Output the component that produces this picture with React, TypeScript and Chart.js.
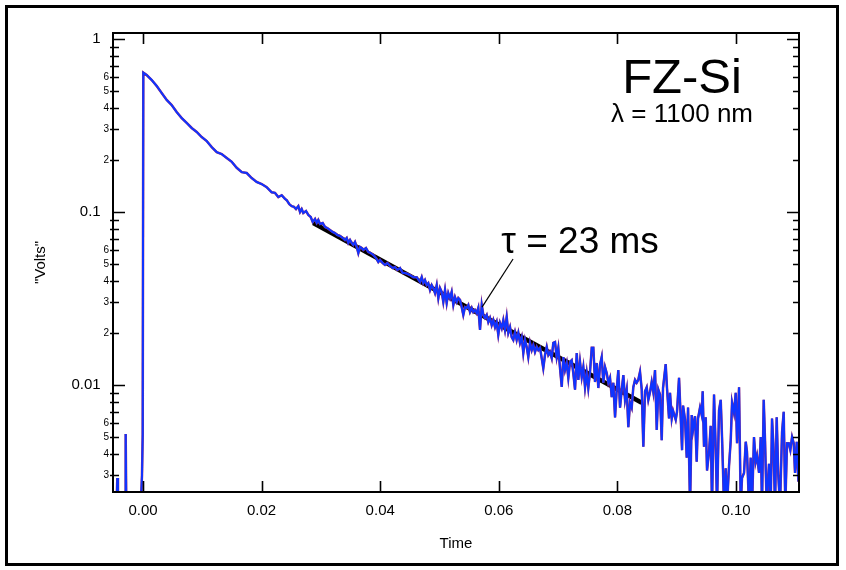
import React, { useEffect, useRef } from "react";
import { Chart, registerables } from "chart.js";

Chart.register(...registerables);

// Measured trace (time in s, signal in "Volts")
const traceTime = [
  -0.00506, -0.00447, -0.00433, -0.00422, -0.00298, -0.00292, -0.00282, -0.00037, -0.00017, -0.00005,
  0.00005, 0.00062, 0.00147, 0.00231, 0.00315, 0.004, 0.00484, 0.00568, 0.00653, 0.00737,
  0.00821, 0.00906, 0.0099, 0.01074, 0.01159, 0.01243, 0.01327, 0.01412, 0.01496, 0.0158,
  0.01665, 0.01749, 0.01833, 0.01917, 0.02002, 0.02086, 0.0217, 0.02226, 0.02282, 0.02339,
  0.02395, 0.02423, 0.02467, 0.02508, 0.02546, 0.0258, 0.02619, 0.02648, 0.02676, 0.02703,
  0.02749, 0.02788, 0.02828, 0.02862, 0.02901, 0.02929, 0.02956, 0.02985, 0.0303, 0.03069,
  0.03108, 0.03153, 0.03199, 0.03238, 0.03276, 0.03322, 0.03368, 0.03406, 0.03435, 0.03462,
  0.03491, 0.03519, 0.03546, 0.03575, 0.03604, 0.03631, 0.03659, 0.03688, 0.03715, 0.0376,
  0.03799, 0.0384, 0.03884, 0.03929, 0.03968, 0.03997, 0.04042, 0.04081, 0.0412, 0.04165,
  0.04211, 0.0425, 0.04288, 0.04334, 0.04379, 0.04418, 0.04464, 0.04503, 0.04558, 0.04616,
  0.04671, 0.047, 0.04727, 0.04755, 0.04784, 0.04811, 0.0484, 0.04868, 0.04895, 0.04924,
  0.04953, 0.0498, 0.05008, 0.05037, 0.05064, 0.05093, 0.05121, 0.05148, 0.05177, 0.05205,
  0.05233, 0.05261, 0.0529, 0.05317, 0.05346, 0.05374, 0.05401, 0.0543, 0.05459, 0.05486,
  0.05514, 0.05543, 0.0557, 0.05599, 0.05627, 0.05654, 0.05683, 0.05712, 0.05739, 0.05767,
  0.05796, 0.05823, 0.05851, 0.0588, 0.05907, 0.05936, 0.05964, 0.05991, 0.0602, 0.06049,
  0.06076, 0.06104, 0.06133, 0.0616, 0.06189, 0.06217, 0.06244, 0.06273, 0.06301, 0.06329,
  0.06357, 0.06386, 0.06413, 0.06442, 0.0647, 0.06497, 0.06526, 0.06555, 0.06582, 0.0661,
  0.06639, 0.06666, 0.06695, 0.06723, 0.0675, 0.06779, 0.06808, 0.06835, 0.06863, 0.06892,
  0.06919, 0.06948, 0.06976, 0.07003, 0.07032, 0.07061, 0.07088, 0.07116, 0.07145, 0.07172,
  0.07201, 0.07229, 0.07256, 0.07285, 0.07314, 0.07341, 0.07369, 0.07398, 0.07425, 0.07454,
  0.07482, 0.07509, 0.07538, 0.07567, 0.07594, 0.07622, 0.07651, 0.07678, 0.07707, 0.07735,
  0.07762, 0.07791, 0.0782, 0.07847, 0.07875, 0.07904, 0.07931, 0.0796, 0.07988, 0.08015,
  0.08044, 0.08073, 0.081, 0.08128, 0.08157, 0.08184, 0.08213, 0.08241, 0.08268, 0.08297,
  0.08325, 0.08352, 0.08381, 0.0841, 0.08437, 0.08466, 0.08494, 0.08521, 0.0855, 0.08578,
  0.08605, 0.08634, 0.08663, 0.0869, 0.08718, 0.08747, 0.08769, 0.08814, 0.08836, 0.0887,
  0.08887, 0.08916, 0.08938, 0.08983, 0.09005, 0.09039, 0.09067, 0.0909, 0.09107, 0.0914,
  0.09169, 0.09191, 0.09225, 0.09253, 0.09275, 0.09309, 0.09337, 0.09359, 0.09393, 0.09421,
  0.09438, 0.0946, 0.09489, 0.09511, 0.09545, 0.09573, 0.09595, 0.09629, 0.09658, 0.0968,
  0.09713, 0.09742, 0.09764, 0.09798, 0.09826, 0.09848, 0.09882, 0.09911, 0.09933, 0.09966,
  0.09995, 0.10017, 0.10051, 0.10079, 0.10101, 0.10135, 0.10164, 0.10185, 0.10219, 0.10248,
  0.1027, 0.10303, 0.10332, 0.10354, 0.10388, 0.10417, 0.10438, 0.10467, 0.10489, 0.10517,
  0.10556, 0.10585, 0.10607, 0.10629, 0.10658, 0.10686, 0.10713, 0.10742, 0.10776, 0.10804,
  0.10831, 0.1086, 0.10889, 0.10916, 0.10945, 0.10973, 0.10995, 0.11024, 0.11051, 0.1108,
];

const traceVolts = [
  0.002, 0.002, 0.0029, 0.002, 0.002, 0.0052, 0.002, 0.002, 0.003, 0.0052,
  0.639, 0.619, 0.579, 0.535, 0.487, 0.444, 0.415, 0.378, 0.349, 0.327,
  0.306, 0.29, 0.271, 0.257, 0.237, 0.222, 0.216, 0.205, 0.195, 0.18,
  0.17, 0.168, 0.157, 0.149, 0.145, 0.139, 0.13, 0.129, 0.122, 0.125,
  0.119, 0.117, 0.111, 0.108, 0.107, 0.104, 0.108, 0.1, 0.104, 0.0987,
  0.1013, 0.0961, 0.0936, 0.0875, 0.0911, 0.0864, 0.0899, 0.0852, 0.0864, 0.0819,
  0.0808, 0.0787, 0.0766, 0.0756, 0.0736, 0.0727, 0.0708, 0.0689, 0.0708, 0.0662,
  0.0689, 0.0662, 0.0645, 0.0671, 0.0628, 0.0579, 0.0628, 0.0619, 0.0603, 0.0619,
  0.0587, 0.0579, 0.0564, 0.0542, 0.0514, 0.0528, 0.0507, 0.0494, 0.0507, 0.0488,
  0.0474, 0.0481, 0.0462, 0.0474, 0.0444, 0.0444, 0.0438, 0.0432, 0.042, 0.042,
  0.0394, 0.042, 0.0388, 0.0404, 0.0378, 0.0388, 0.0354, 0.0378, 0.0363, 0.034,
  0.0378, 0.0318, 0.0363, 0.0345, 0.0302, 0.0354, 0.0298, 0.034, 0.0318, 0.0345,
  0.029, 0.0322, 0.0302, 0.0318, 0.031, 0.0282, 0.0254, 0.0282, 0.0279, 0.029,
  0.0264, 0.0279, 0.0264, 0.0271, 0.026, 0.0279, 0.0208, 0.029, 0.0254, 0.0244,
  0.0254, 0.0231, 0.0244, 0.0222, 0.0237, 0.0216, 0.0231, 0.0195, 0.0228, 0.0213,
  0.0237, 0.0208, 0.0247, 0.02, 0.0216, 0.0189, 0.0182, 0.0202, 0.0182, 0.02,
  0.0175, 0.0189, 0.0153, 0.0182, 0.0166, 0.0145, 0.0175, 0.0159, 0.017, 0.0155,
  0.0166, 0.0159, 0.0164, 0.0143, 0.0125, 0.0149, 0.0166, 0.0149, 0.0155, 0.0143,
  0.0175, 0.0177, 0.0145, 0.0164, 0.0125, 0.00974, 0.0145, 0.0122, 0.0134, 0.011,
  0.0136, 0.0139, 0.0117, 0.0094, 0.0153, 0.0107, 0.0136, 0.0111, 0.0127, 0.0097,
  0.0117, 0.0096, 0.0119, 0.0164, 0.0164, 0.0104, 0.0134, 0.0096, 0.0131, 0.0145,
  0.0103, 0.0127, 0.0117, 0.0103, 0.011, 0.0085, 0.0103, 0.0065, 0.0094, 0.0122,
  0.0074, 0.0094, 0.0114, 0.0082, 0.0094, 0.0057, 0.0079, 0.0074, 0.0097, 0.0107,
  0.0103, 0.0107, 0.0119, 0.0094, 0.0044, 0.0092, 0.0097, 0.0082, 0.0091, 0.0104,
  0.0091, 0.0122, 0.0055, 0.0094, 0.0088, 0.0048, 0.0096, 0.0132, 0.0096, 0.0064,
  0.009, 0.0064, 0.0071, 0.0063, 0.007, 0.011, 0.0065, 0.0042, 0.0076, 0.0063,
  0.0038, 0.0074, 0.002, 0.0067, 0.0055, 0.0066, 0.0036, 0.0064, 0.0074, 0.0067,
  0.0092, 0.0044, 0.0065, 0.0032, 0.0041, 0.0058, 0.002, 0.0088, 0.0042, 0.002,
  0.0071, 0.0082, 0.005, 0.002, 0.0033, 0.002, 0.0034, 0.0048, 0.0079, 0.0069,
  0.009, 0.0046, 0.0097, 0.002, 0.0029, 0.0031, 0.0047, 0.0041, 0.002, 0.0038,
  0.002, 0.005, 0.0036, 0.0039, 0.0031, 0.005, 0.002, 0.0082, 0.0048, 0.002,
  0.0035, 0.002, 0.0064, 0.0046, 0.002, 0.0065, 0.003, 0.002, 0.0053, 0.007,
  0.002, 0.0046, 0.0046, 0.0042, 0.005, 0.0046, 0.0031, 0.0047, 0.0028, 0.0028,
];

// Exponential fit, tau = 23 ms (end points)
const fitTime = [0.0287, 0.0841];
const fitVolts = [0.0864, 0.0079];

// Axes
const xTickValues = [0, 0.02, 0.04, 0.06, 0.08, 0.1];
const xTickLabels = ["0.00", "0.02", "0.04", "0.06", "0.08", "0.10"];
const yTickValues = [
  0.003, 0.004, 0.005, 0.006, 0.007, 0.008, 0.009,
  0.01, 0.02, 0.03, 0.04, 0.05, 0.06, 0.07, 0.08, 0.09,
  0.1, 0.2, 0.3, 0.4, 0.5, 0.6, 0.7, 0.8, 0.9, 1,
];
const yTickLabels = [
  "3", "4", "5", "6", "", "", "",
  "0.01", "2", "3", "4", "5", "6", "", "", "",
  "0.1", "2", "3", "4", "5", "6", "", "", "",
  "1",
];
const yMajorTicks = [0.01, 0.1, 1];
const X_MIN = -0.00506;
const X_MAX = 0.11062;
const Y_MIN = 0.002406;
const Y_MAX = 1.083;

// Annotations (anchored in data coordinates)
const titleText = "FZ-Si";
const titleAt = [0.0909, 0.487];
const subtitleText = "\u03bb = 1100 nm";
const subtitleAt = [0.0909, 0.331];
const tauText = "\u03c4 = 23 ms";
const tauAt = [0.0737, 0.058];
const leaderFrom = [0.0624, 0.0535];
const leaderTo = [0.05717, 0.0282];

const FONT = '"Liberation Sans", Arial, Helvetica, sans-serif';

const isMajorY = (v: number) => yMajorTicks.some((m) => Math.abs(m - v) < 1e-9);

const framePlugin = {
  id: "frameAndNotes",
  afterDraw(chart: any) {
    const { ctx, chartArea } = chart;
    const { left, right, top, bottom } = chartArea;
    const xs = chart.scales.x;
    const ys = chart.scales.y;
    ctx.save();
    ctx.strokeStyle = "#000";
    ctx.lineWidth = 1.6;
    ctx.beginPath();
    xTickValues.forEach((v) => {
      const px = Math.round(xs.getPixelForValue(v)) + 0.5;
      ctx.moveTo(px, bottom);
      ctx.lineTo(px, bottom - 11);
      ctx.moveTo(px, top);
      ctx.lineTo(px, top + 11);
    });
    yTickValues.forEach((v) => {
      const py = Math.round(ys.getPixelForValue(v)) + 0.5;
      const major = isMajorY(v);
      const len = major ? 12 : 6;
      ctx.moveTo(left - (major ? 0 : 3), py);
      ctx.lineTo(left + len, py);
      ctx.moveTo(right, py);
      ctx.lineTo(right - len, py);
    });
    ctx.stroke();
    ctx.lineWidth = 2;
    ctx.strokeRect(left, top, right - left, bottom - top);

    // leader line
    ctx.lineWidth = 1.2;
    ctx.beginPath();
    ctx.moveTo(xs.getPixelForValue(leaderFrom[0]), ys.getPixelForValue(leaderFrom[1]));
    ctx.lineTo(xs.getPixelForValue(leaderTo[0]), ys.getPixelForValue(leaderTo[1]));
    ctx.stroke();

    // texts
    ctx.fillStyle = "#000";
    ctx.textAlign = "center";
    ctx.textBaseline = "alphabetic";
    ctx.font = `49px ${FONT}`;
    ctx.fillText(titleText, xs.getPixelForValue(titleAt[0]), ys.getPixelForValue(titleAt[1]));
    ctx.font = `26px ${FONT}`;
    ctx.fillText(subtitleText, xs.getPixelForValue(subtitleAt[0]), ys.getPixelForValue(subtitleAt[1]));
    ctx.font = `37px ${FONT}`;
    ctx.fillText(tauText, xs.getPixelForValue(tauAt[0]), ys.getPixelForValue(tauAt[1]));

    // outer frame
    ctx.lineWidth = 3;
    ctx.strokeRect(6.5, 6.5, 831, 558);
    ctx.restore();
  },
};

export default function App() {
  const canvasRef = useRef<HTMLCanvasElement | null>(null);

  useEffect(() => {
    const canvas = canvasRef.current;
    if (!canvas) return;
    const pts = traceTime.map((t, i) => ({ x: t, y: traceVolts[i] }));
    const fitPts = fitTime.map((t, i) => ({ x: t, y: fitVolts[i] }));
    const chart = new Chart(canvas, {
      type: "line",
      data: {
        datasets: [
          {
            label: "trace (blue)",
            data: pts,
            borderColor: "#0f34ff",
            borderWidth: 2,
            pointRadius: 0,
            tension: 0,
            order: 0,
          },
          {
            label: "trace (purple)",
            data: pts,
            borderColor: "#a02a6c",
            borderWidth: 2.5,
            pointRadius: 0,
            tension: 0,
            order: 1,
          },
          {
            label: "fit",
            data: fitPts,
            borderColor: "#000000",
            borderWidth: 4.5,
            pointRadius: 0,
            tension: 0,
            order: 2,
          },
        ],
      },
      plugins: [framePlugin],
      options: {
        responsive: false,
        animation: false,
        events: [],
        layout: { padding: { left: 0, top: 33, right: 47, bottom: 0 } },
        plugins: { legend: { display: false }, tooltip: { enabled: false } },
        scales: {
          x: {
            type: "linear",
            min: X_MIN,
            max: X_MAX,
            afterBuildTicks: (scale: any) => {
              scale.ticks = xTickValues.map((v) => ({ value: v }));
            },
            afterFit: (scale: any) => {
              scale.height = 78;
            },
            grid: { display: false, drawTicks: false },
            border: { display: false },
            ticks: {
              autoSkip: false,
              maxRotation: 0,
              padding: 10,
              color: "#000",
              font: { family: FONT, size: 15 },
              callback: (_v: any, i: number) => xTickLabels[i],
            },
            title: {
              display: true,
              text: "Time",
              color: "#000",
              font: { family: FONT, size: 15 },
              padding: { top: 0, bottom: 17 },
            },
          },
          y: {
            type: "logarithmic",
            min: Y_MIN,
            max: Y_MAX,
            afterBuildTicks: (scale: any) => {
              scale.ticks = yTickValues.map((v) => ({ value: v }));
            },
            afterFit: (scale: any) => {
              scale.width = 113;
            },
            grid: { display: false, drawTicks: false },
            border: { display: false },
            ticks: {
              autoSkip: false,
              padding: 4,
              color: "#000",
              font: (ctx: any) => {
                const v = yTickValues[ctx.index];
                return { family: FONT, size: isMajorY(v) ? 15 : 10 };
              },
              callback: (_v: any, i: number) => {
                const label = yTickLabels[i];
                return isMajorY(yTickValues[i]) ? label + "  " : label;
              },
            },
            title: {
              display: true,
              text: '"Volts"',
              color: "#000",
              font: { family: FONT, size: 15 },
              padding: { top: 32, bottom: 0 },
            },
          },
        },
      },
    });
    return () => chart.destroy();
  }, []);

  return (
    <div style={{ position: "absolute", left: 0, top: 0, width: 846, height: 570, background: "#fff" }}>
      <canvas ref={canvasRef} width={846} height={570} style={{ display: "block" }} />
    </div>
  );
}
